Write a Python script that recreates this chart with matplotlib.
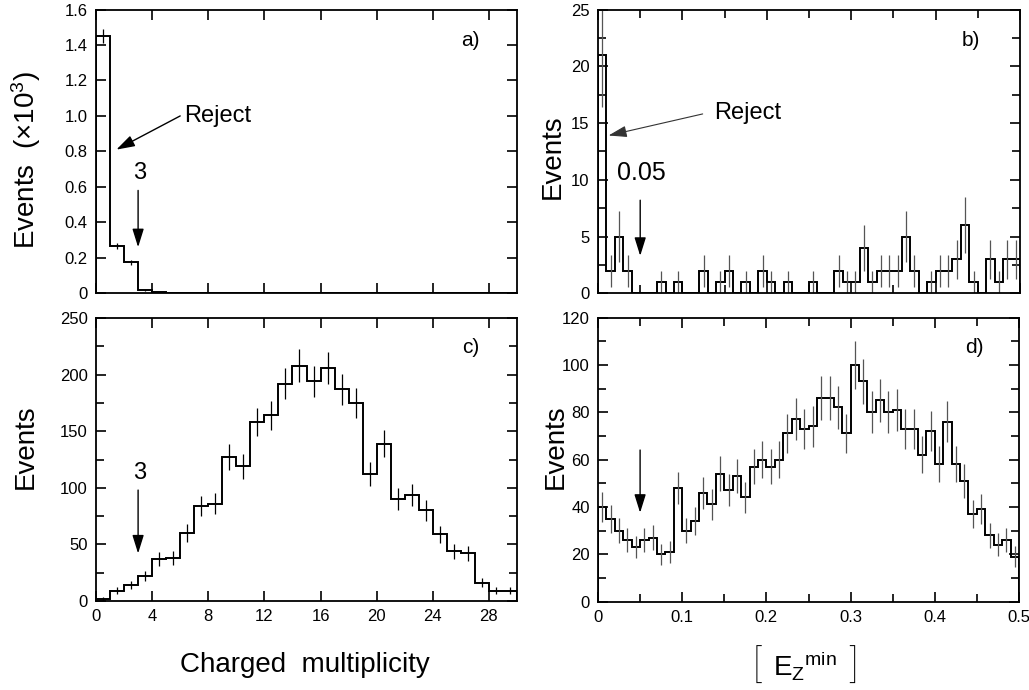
import numpy as np
import matplotlib
matplotlib.use("Agg")
import matplotlib.pyplot as plt
from matplotlib.ticker import MultipleLocator, FuncFormatter

plt.rcParams['font.family'] = ['Liberation Sans', 'DejaVu Sans']
plt.rcParams['mathtext.fontset'] = 'custom'
plt.rcParams['mathtext.rm'] = 'Liberation Sans'
plt.rcParams['mathtext.it'] = 'Liberation Sans'

# ---------------- data ----------------
# (a) charged multiplicity, all events (x 10^3), bins of width 1 from 0 to 30
mult_range = (0, 30)
counts_a = [1.45, 0.268, 0.175, 0.016, 0.006, 0.004, 0.003, 0.002, 0.002, 0.001,
            0.001, 0.001, 0.001, 0.001, 0.001, 0.001, 0.001, 0.001, 0.001, 0.001,
            0.001, 0.001, 0.001, 0.001, 0.001, 0.001, 0.001, 0.001, 0.001, 0.001]

# (b) E_Z^min for multiplicity-rejected events, bins of width 0.01 from 0 to 0.5
ez_range = (0.0, 0.5)
counts_b = [21, 2, 5, 2, 0, 0, 0, 1, 0, 1,
            0, 0, 2, 0, 1, 2, 0, 1, 0, 2,
            1, 0, 1, 0, 0, 1, 0, 0, 2, 1,
            1, 4, 1, 2, 2, 2, 5, 2, 0, 1,
            2, 2, 3, 6, 1, 0, 3, 1, 3, 3]

# (c) charged multiplicity after E_Z cut
counts_c = [2, 9, 14, 22, 37, 38, 60, 84, 86, 127,
            119, 158, 164, 192, 208, 194, 206, 187, 175, 112,
            139, 90, 94, 80, 59, 44, 42, 16, 9, 9]

# (d) E_Z^min after multiplicity cut
counts_d = [40, 35, 30, 26, 23, 26, 27, 20, 21, 48,
            30, 34, 46, 41, 54, 47, 53, 44, 57, 60,
            57, 60, 71, 77, 73, 74, 86, 86, 82, 71,
            100, 93, 80, 85, 80, 81, 73, 73, 62, 72,
            58, 76, 58, 51, 37, 39, 28, 24, 26, 19]

W, H = 1029, 690
fig = plt.figure(figsize=(W / 100, H / 100), dpi=100)


def rect(l, t, r, b):
    return [l / W, 1 - b / H, (r - l) / W, (b - t) / H]


ax_a = fig.add_axes(rect(96, 9.5, 517, 293.3))
ax_b = fig.add_axes(rect(598, 9.5, 1020, 293.3))
ax_c = fig.add_axes(rect(96, 318, 517, 601))
ax_d = fig.add_axes(rect(598, 317.5, 1019, 601.5))


def fmt_gen(v, pos):
    if abs(v) < 1e-9:
        return '0'
    if abs(v - round(v)) < 1e-9:
        return '%d' % round(v)
    return ('%.2f' % v).rstrip('0')


def fmt_1dec(v, pos):
    if abs(v) < 1e-9:
        return '0'
    return '%.1f' % v


def style(ax, xmaj, ymaj, xmin=None, ymin=None, xlabels=True, yfmt=fmt_gen):
    for s in ax.spines.values():
        s.set_linewidth(1.3)
    ax.xaxis.set_major_locator(MultipleLocator(xmaj))
    ax.yaxis.set_major_locator(MultipleLocator(ymaj))
    if xmin:
        ax.xaxis.set_minor_locator(MultipleLocator(xmin))
    if ymin:
        ax.yaxis.set_minor_locator(MultipleLocator(ymin))
    ax.tick_params(which='both', direction='in', top=True, right=True,
                   width=1.2, labelsize=12, pad=6)
    ax.tick_params(which='major', length=7.5)
    ax.tick_params(which='minor', length=5.5)
    ax.xaxis.set_major_formatter(FuncFormatter(fmt_gen))
    ax.yaxis.set_major_formatter(FuncFormatter(yfmt))
    if not xlabels:
        ax.tick_params(axis='x', labelbottom=False)


def hist(ax, counts, rng, scale=1.0, ecolor='k'):
    counts = np.asarray(counts, dtype=float)
    edges = np.linspace(rng[0], rng[1], len(counts) + 1)
    centers = 0.5 * (edges[:-1] + edges[1:])
    ax.stairs(counts, edges, color='k', lw=1.4, baseline=0)
    err = np.sqrt(counts / scale) * scale
    m = counts > 0
    ax.vlines(centers[m], (counts - err)[m], (counts + err)[m],
              color=ecolor, lw=0.9, clip_on=True)


arrow = dict(arrowstyle='-|>,head_length=0.8,head_width=0.25', color='k',
             lw=1.0, mutation_scale=14, shrinkA=0, shrinkB=0)

# (a)
hist(ax_a, counts_a, mult_range, scale=1e-3)
ax_a.set_xlim(*mult_range)
ax_a.set_ylim(0, 1.6)
style(ax_a, 4, 0.2, xlabels=False, yfmt=fmt_1dec)
ax_a.text(0.89, 0.89, 'a)', transform=ax_a.transAxes, fontsize=15, ha='center', va='center')
ax_a.annotate('', xy=(1.45, 0.81), xytext=(6.0, 1.0), arrowprops=arrow)
ax_a.text(6.3, 1.0, 'Reject', fontsize=17, ha='left', va='center')
ax_a.text(3.1, 0.68, '3', fontsize=17, ha='center', va='center')
ax_a.annotate('', xy=(3.0, 0.26), xytext=(3.0, 0.58), arrowprops=arrow)

# (b)
hist(ax_b, counts_b, ez_range, ecolor='#555555')
ax_b.set_xlim(*ez_range)
ax_b.set_ylim(0, 25)
style(ax_b, 0.1, 5, xmin=0.05, ymin=2.5, xlabels=False)
ax_b.text(0.884, 0.89, 'b)', transform=ax_b.transAxes, fontsize=15, ha='center', va='center')
ax_b.annotate('', xy=(0.0125, 13.9), xytext=(0.124, 15.8),
              arrowprops=dict(arrow, lw=0.8, color='#333333'))
ax_b.text(0.138, 15.9, 'Reject', fontsize=17, ha='left', va='center')
ax_b.text(0.051, 10.6, '0.05', fontsize=18, ha='center', va='center')
ax_b.annotate('', xy=(0.05, 3.3), xytext=(0.05, 8.2), arrowprops=arrow)

# (c)
hist(ax_c, counts_c, mult_range)
ax_c.set_xlim(*mult_range)
ax_c.set_ylim(0, 250)
style(ax_c, 4, 50, ymin=25)
ax_c.text(0.89, 0.897, 'c)', transform=ax_c.transAxes, fontsize=15, ha='center', va='center')
ax_c.text(3.1, 113, '3', fontsize=17, ha='center', va='center')
ax_c.annotate('', xy=(3.0, 42), xytext=(3.0, 98), arrowprops=arrow)

# (d)
hist(ax_d, counts_d, ez_range, ecolor='#555555')
ax_d.set_xlim(*ez_range)
ax_d.set_ylim(0, 120)
style(ax_d, 0.1, 20, xmin=0.05, ymin=10)
ax_d.text(0.893, 0.893, 'd)', transform=ax_d.transAxes, fontsize=15, ha='center', va='center')
ax_d.annotate('', xy=(0.05, 37.5), xytext=(0.05, 64), arrowprops=arrow)


# axis titles
def ftext(x, y, s, **kw):
    fig.text(x / W, 1 - y / H, s, **kw)


ftext(26, 160, 'Events  (×10$^{3}$)', fontsize=20, rotation=90, ha='center', va='center')
ftext(26, 447, 'Events', fontsize=20, rotation=90, ha='center', va='center')
ftext(553, 157, 'Events', fontsize=20, rotation=90, ha='center', va='center')
ftext(556, 447, 'Events', fontsize=20, rotation=90, ha='center', va='center')
ftext(305, 665, 'Charged  multiplicity', fontsize=20, ha='center', va='center')
ftext(757, 667, '[', fontsize=28, ha='center', va='center',
      family=['Roboto', 'Liberation Sans'], fontweight='light')
ftext(773, 675, r'$\mathrm{E_Z}^{\mathrm{min}}$', fontsize=20, ha='left', va='baseline')
ftext(853, 667, ']', fontsize=28, ha='center', va='center',
      family=['Roboto', 'Liberation Sans'], fontweight='light')

fig.savefig('out.png', dpi=100, facecolor='white')
